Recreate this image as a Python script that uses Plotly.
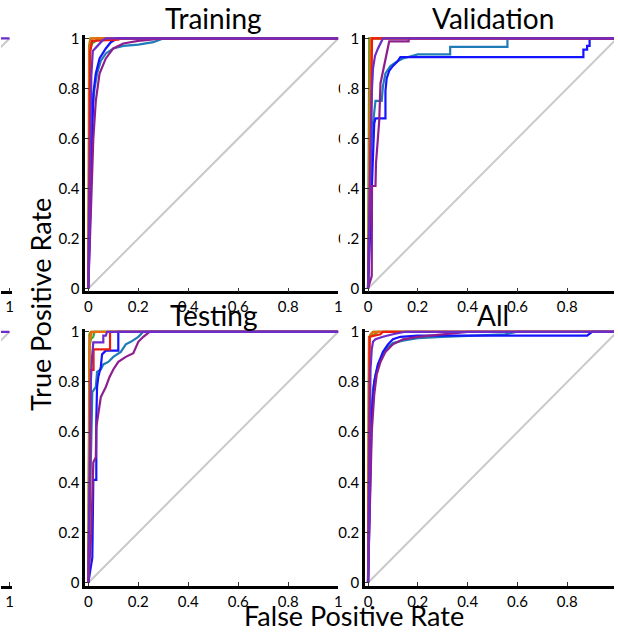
import plotly.graph_objects as go

# ---------------- data (FPR, TPR) ----------------
tick_vals = [0, 0.2, 0.4, 0.6, 0.8, 1]
tick_text = ["0", "0.2", "0.4", "0.6", "0.8", "1"]
class_names = ["green", "olive", "orange", "teal", "blue", "magenta", "red", "violet"]
class_colors = ["#3aa83a", "#9c8a00", "#ee6a12", "#1f7cb6", "#1414ff", "#8e1e8e", "#ec1c10", "#6c2ccc"]
panel_titles = ["Training", "Validation", "Testing", "All"]
diag = [(0, 0), (1, 1)]

train_green = [(0, 0), (0.006, 0.95), (0.015, 0.98), (0.03, 0.99), (0.035, 1), (1, 1)]
train_olive = [(0, 0), (0.003, 0.97), (0.008, 1), (1, 1)]
train_orange = [(0, 0), (0.005, 0.96), (0.01, 0.99), (0.015, 1), (1, 1)]
train_teal = [(0, 0), (0.008, 0.45), (0.015, 0.7), (0.025, 0.8), (0.035, 0.86), (0.05, 0.91), (0.07, 0.94),
              (0.1, 0.96), (0.14, 0.97), (0.2, 0.975), (0.26, 0.985), (0.3, 1), (1, 1)]
train_blue = [(0, 0), (0.01, 0.45), (0.015, 0.65), (0.02, 0.78), (0.03, 0.86), (0.045, 0.92), (0.07, 0.96),
              (0.09, 0.985), (0.115, 1), (1, 1)]
train_magenta = [(0, 0), (0.01, 0.3), (0.02, 0.6), (0.03, 0.75), (0.045, 0.86), (0.07, 0.92), (0.1, 0.96),
                 (0.14, 0.98), (0.2, 0.99), (0.3, 1), (1, 1)]
train_red = [(0, 0), (0.004, 0.6), (0.008, 0.95), (0.015, 0.99), (0.12, 0.995), (0.13, 1), (1, 1)]
train_violet = [(0, 0), (0.008, 0.5), (0.012, 0.85), (0.018, 0.95), (0.035, 0.97), (0.055, 0.99), (0.07, 1), (1, 1)]

val_green = [(0, 0), (0.005, 1), (1, 1)]
val_olive = [(0, 0), (0.008, 1), (1, 1)]
val_orange = [(0, 0), (0.012, 0.9), (0.012, 1), (1, 1)]
val_teal = [(0, 0), (0.01, 0.35), (0.015, 0.6), (0.02, 0.66), (0.03, 0.75), (0.055, 0.75), (0.06, 0.81),
            (0.07, 0.86), (0.09, 0.89), (0.12, 0.91), (0.14, 0.92), (0.2, 0.936), (0.33, 0.936), (0.33, 0.966),
            (0.56, 0.966), (0.56, 1), (1, 1)]
val_blue = [(0, 0), (0.008, 0.2), (0.015, 0.45), (0.02, 0.53), (0.025, 0.66), (0.03, 0.68), (0.07, 0.68),
            (0.07, 0.79), (0.075, 0.84), (0.085, 0.87), (0.1, 0.89), (0.12, 0.91), (0.13, 0.925), (0.865, 0.925),
            (0.865, 0.955), (0.88, 0.955), (0.88, 0.97), (0.89, 0.97), (0.89, 1), (1, 1)]
val_magenta = [(0, 0), (0.015, 0.05), (0.016, 0.41), (0.03, 0.41), (0.032, 0.5), (0.04, 0.6), (0.045, 0.67),
               (0.05, 0.82), (0.06, 0.87), (0.075, 0.93), (0.08, 0.96), (0.085, 0.988), (0.163, 0.988),
               (0.163, 1), (1, 1)]
val_red = [(0, 0), (0.01, 0.5), (0.014, 0.8), (0.016, 1), (1, 1)]
val_violet = [(0, 0), (0.006, 0.3), (0.01, 0.6), (0.016, 0.8), (0.02, 0.88), (0.028, 0.93), (0.04, 0.96),
              (0.05, 0.98), (0.06, 1), (1, 1)]

test_green = [(0, 0), (0.005, 0.94), (0.01, 0.97), (0.02, 0.98), (0.025, 1), (1, 1)]
test_olive = [(0, 0), (0.004, 0.99), (0.01, 1), (1, 1)]
test_orange = [(0, 0), (0.006, 0.97), (0.015, 1), (1, 1)]
test_teal = [(0, 0), (0.008, 0.4), (0.012, 0.6), (0.016, 0.76), (0.03, 0.78), (0.035, 0.84), (0.05, 0.85),
             (0.06, 0.87), (0.08, 0.88), (0.1, 0.9), (0.13, 0.92), (0.15, 0.95), (0.17, 0.96), (0.2, 0.98),
             (0.22, 1), (1, 1)]
test_blue = [(0, 0), (0.016, 0.1), (0.02, 0.41), (0.032, 0.41), (0.032, 0.65), (0.035, 0.78), (0.04, 0.82),
             (0.05, 0.86), (0.055, 0.91), (0.07, 0.925), (0.12, 0.925), (0.12, 1), (1, 1)]
test_magenta = [(0, 0), (0.012, 0.2), (0.02, 0.48), (0.03, 0.5), (0.032, 0.62), (0.04, 0.68), (0.05, 0.74),
                (0.07, 0.78), (0.085, 0.82), (0.1, 0.85), (0.12, 0.88), (0.15, 0.9), (0.18, 0.915), (0.2, 0.96),
                (0.22, 0.98), (0.245, 1), (1, 1)]
test_red = [(0, 0), (0.008, 0.5), (0.01, 0.848), (0.021, 0.848), (0.021, 0.93), (0.087, 0.93), (0.087, 1), (1, 1)]
test_violet = [(0, 0), (0.006, 0.5), (0.01, 0.8), (0.015, 0.9), (0.02, 0.958), (0.06, 0.958), (0.06, 0.985),
               (0.07, 0.985), (0.075, 1), (1, 1)]

all_green = [(0, 0), (0.004, 0.97), (0.01, 0.99), (0.02, 1), (1, 1)]
all_olive = [(0, 0), (0.004, 0.98), (0.03, 0.992), (0.04, 1), (1, 1)]
all_orange = [(0, 0), (0.005, 0.97), (0.012, 0.99), (0.02, 1), (1, 1)]
all_teal = [(0, 0), (0.008, 0.45), (0.012, 0.65), (0.02, 0.77), (0.03, 0.83), (0.04, 0.87), (0.06, 0.91),
            (0.08, 0.94), (0.1, 0.955), (0.14, 0.965), (0.2, 0.975), (0.3, 0.98), (0.45, 0.985), (0.55, 0.99),
            (0.6, 1), (1, 1)]
all_blue = [(0, 0), (0.01, 0.45), (0.015, 0.68), (0.025, 0.8), (0.04, 0.87), (0.06, 0.92), (0.08, 0.95),
            (0.1, 0.97), (0.13, 0.98), (0.2, 0.985), (0.88, 0.985), (0.9, 1), (1, 1)]
all_magenta = [(0, 0), (0.01, 0.4), (0.015, 0.6), (0.025, 0.75), (0.035, 0.83), (0.05, 0.88), (0.07, 0.92),
               (0.1, 0.95), (0.14, 0.97), (0.2, 0.98), (0.3, 0.99), (0.4, 1), (1, 1)]
all_red = [(0, 0), (0.004, 0.6), (0.007, 0.98), (0.05, 0.99), (0.06, 1), (1, 1)]
all_violet = [(0, 0), (0.006, 0.5), (0.01, 0.85), (0.015, 0.93), (0.02, 0.96), (0.03, 0.97), (0.06, 0.98),
              (0.1, 0.99), (0.15, 1), (1, 1)]

edge_violet = [(0.9, 1), (1, 1)]  # fragments of neighbouring panels cut by the crop

panels = [
    [train_green, train_olive, train_orange, train_teal, train_blue, train_magenta, train_red, train_violet],
    [val_green, val_olive, val_orange, val_teal, val_blue, val_magenta, val_red, val_violet],
    [test_green, test_olive, test_orange, test_teal, test_blue, test_magenta, test_red, test_violet],
    [all_green, all_olive, all_orange, all_teal, all_blue, all_magenta, all_red, all_violet],
]

# ---------------- layout geometry (pixels) ----------------
W, H = 618, 632
FONT = "Lato, 'Open Sans', sans-serif"


def fx(px):
    return px / W


def fy(py):
    return 1 - py / H


col_x = [(85, 340, [-0.012, 1.0]), (367, 618, [-0.012, 0.988])]
row_y = [(29, 290), (328, 590)]

fig = go.Figure()
layout = dict(
    width=W, height=H, margin=dict(l=0, r=0, t=0, b=0),
    paper_bgcolor="white", plot_bgcolor="white", showlegend=False,
    font=dict(family=FONT, color="black", size=15),
)

axis_common = dict(showgrid=False, zeroline=False, showline=True, linecolor="black", linewidth=2.5,
                   ticks="inside", ticklen=4, tickwidth=1, tickcolor="#333",
                   tickvals=tick_vals, ticktext=tick_text, tickfont=dict(size=15, family=FONT),
                   fixedrange=True)


def add_line(pts, color, width, xa, ya):
    fig.add_trace(go.Scatter(x=[p[0] for p in pts], y=[p[1] for p in pts], mode="lines",
                             line=dict(color=color, width=width), xaxis=xa, yaxis=ya,
                             hoverinfo="skip"))


annotations = []
for i, curves in enumerate(panels):
    r, c = divmod(i, 2)
    n = i + 1
    xa = "x" if n == 1 else f"x{n}"
    ya = "y" if n == 1 else f"y{n}"
    x0, x1, xr = col_x[c]
    y0, y1 = row_y[r]
    layout["xaxis" if n == 1 else f"xaxis{n}"] = dict(axis_common, domain=[fx(x0), fx(x1)], range=xr,
                                                       anchor=ya)
    layout["yaxis" if n == 1 else f"yaxis{n}"] = dict(axis_common, domain=[fy(y1), fy(y0)],
                                                       range=[-0.012, 1.012], anchor=xa)
    add_line(diag, "#c9c9c9", 2, xa, ya)
    for pts, col in zip(curves, class_colors):
        add_line(pts, col, 2.2, xa, ya)
    cx = (x0 + 3 + (x0 + 3 + 252)) / 2
    ty = 11 if r == 0 else 314
    annotations.append(dict(text=panel_titles[i], x=fx(cx), y=fy(ty), xref="paper", yref="paper",
                            xanchor="center", yanchor="middle", showarrow=False,
                            font=dict(size=28, family=FONT)))

# partial panels at the left edge of the crop
for k, (y0, y1) in enumerate(row_y):
    n = 5 + k
    xa, ya = f"x{n}", f"y{n}"
    layout[f"xaxis{n}"] = dict(axis_common, domain=[0, fx(11)], range=[0.966, 1.0097], anchor=ya,
                               tickvals=[1], ticktext=["1"])
    layout[f"yaxis{n}"] = dict(domain=[fy(y1), fy(y0)], range=[-0.012, 1.012], anchor=xa, visible=False,
                               fixedrange=True)
    add_line(diag, "#c9c9c9", 2, xa, ya)
    add_line(edge_violet, class_colors[7], 2.2, xa, ya)

annotations.append(dict(text="True Positive Rate", x=fx(40), y=fy(303), xref="paper", yref="paper",
                        textangle=-90, showarrow=False, xanchor="center", yanchor="middle",
                        font=dict(size=27, family=FONT)))
annotations.append(dict(text="False Positive Rate", x=fx(356), y=fy(620), xref="paper", yref="paper",
                        showarrow=False, xanchor="center", yanchor="middle",
                        font=dict(size=27, family=FONT)))
layout["annotations"] = annotations
# crop edge hiding the left part of the top-right tick labels
layout["shapes"] = [dict(type="rect", xref="paper", yref="paper", x0=fx(342), x1=fx(349.5),
                         y0=fy(296), y1=fy(22), fillcolor="white", line=dict(width=0), layer="above")]

fig.update_layout(**layout)
fig.write_html("out.html")
